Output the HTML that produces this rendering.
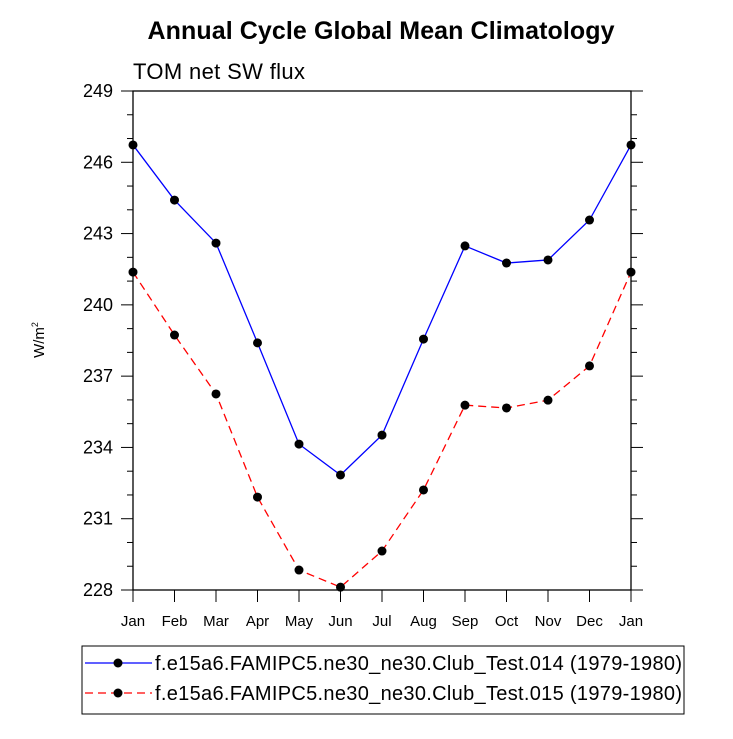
<!DOCTYPE html>
<html><head><meta charset="utf-8"><style>body{margin:0;background:#fff}svg{font-family:"Liberation Sans",sans-serif}</style></head>
<body>
<svg id="c" width="733" height="734">
<text x="381" y="39" text-anchor="middle" font-size="25" font-weight="bold" textLength="467">Annual Cycle Global Mean Climatology</text>
<text x="133" y="79" font-size="22" textLength="172">TOM net SW flux</text>
<text transform="translate(44,340) rotate(-90)" text-anchor="middle" font-size="15">W/m<tspan dy="-6" font-size="9">2</tspan></text>
<g id="ax"></g><g id="series"></g>
<g>
<rect x="82" y="646" width="602" height="68" fill="none" stroke="#000" stroke-width="1"/>
<g><line x1="85" y1="663" x2="152" y2="663" stroke="#00f" stroke-width="1.2"/><circle cx="118" cy="663" r="4.5"/><text x="155" y="670" font-size="20" textLength="527">f.e15a6.FAMIPC5.ne30_ne30.Club_Test.014 (1979-1980)</text></g>
<g><line x1="85" y1="693" x2="152" y2="693" stroke="#f00" stroke-width="1.2" stroke-dasharray="8,5"/><circle cx="118" cy="693" r="4.5"/><text x="155" y="700" font-size="20" textLength="527">f.e15a6.FAMIPC5.ne30_ne30.Club_Test.015 (1979-1980)</text></g>
</g>
</svg>
<script>
const months=["Jan","Feb","Mar","Apr","May","Jun","Jul","Aug","Sep","Oct","Nov","Dec","Jan"];
const yTicks=[228,231,234,237,240,243,246,249];
const test014=[246.73,244.41,242.6,238.4,234.14,232.84,234.52,238.56,242.48,241.76,241.89,243.57,246.73];
const test015=[241.38,238.73,236.25,231.91,228.84,228.12,229.64,232.21,235.78,235.66,235.99,237.43,241.38];
const L=133,R=631,T=91,B=590,ymin=228,ymax=249;
const X=i=>L+i*(R-L)/(months.length-1);
const Y=v=>B-(v-ymin)/(ymax-ymin)*(B-T);
const NS="http://www.w3.org/2000/svg";
function mk(t,a,p){const e=document.createElementNS(NS,t);for(const k in a)e.setAttribute(k,a[k]);p.appendChild(e);return e;}
const ax=document.getElementById('ax');
const box=mk('rect',{x:L,y:T,width:R-L,height:B-T,fill:'none',stroke:'#000','stroke-width':1.3},ax);


for(let v=ymin;v<=ymax;v++){const maj=(v-ymin)%3===0,len=maj?12:6;
mk('line',{x1:L-len,x2:L,y1:Y(v),y2:Y(v),stroke:'#000'},ax);
mk('line',{x1:R,x2:R+len,y1:Y(v),y2:Y(v),stroke:'#000'},ax);}
yTicks.forEach(v=>{const t=mk('text',{x:L-20,y:Y(v)+6,'text-anchor':'end','font-size':18},ax);t.textContent=v;

});
months.forEach((m,i)=>{mk('line',{x1:X(i),x2:X(i),y1:B,y2:B+12,stroke:'#000'},ax);
const t=mk('text',{x:X(i),y:B+36,'text-anchor':'middle','font-size':15},ax);t.textContent=m;

});
const sg=document.getElementById('series');
function series(d,col,dash,name){const g=mk('g',{},sg);


const a={points:d.map((v,i)=>X(i)+','+Y(v)).join(' '),fill:'none',stroke:col,'stroke-width':1.3};if(dash)a['stroke-dasharray']=dash;mk('polyline',a,g);
d.forEach((v,i)=>{const c=mk('circle',{cx:X(i),cy:Y(v),r:4.5},g);

});}
series(test014,'#00f',null,'series-test-014');
series(test015,'#f00','8,5','series-test-015');
</script>
</body></html>
